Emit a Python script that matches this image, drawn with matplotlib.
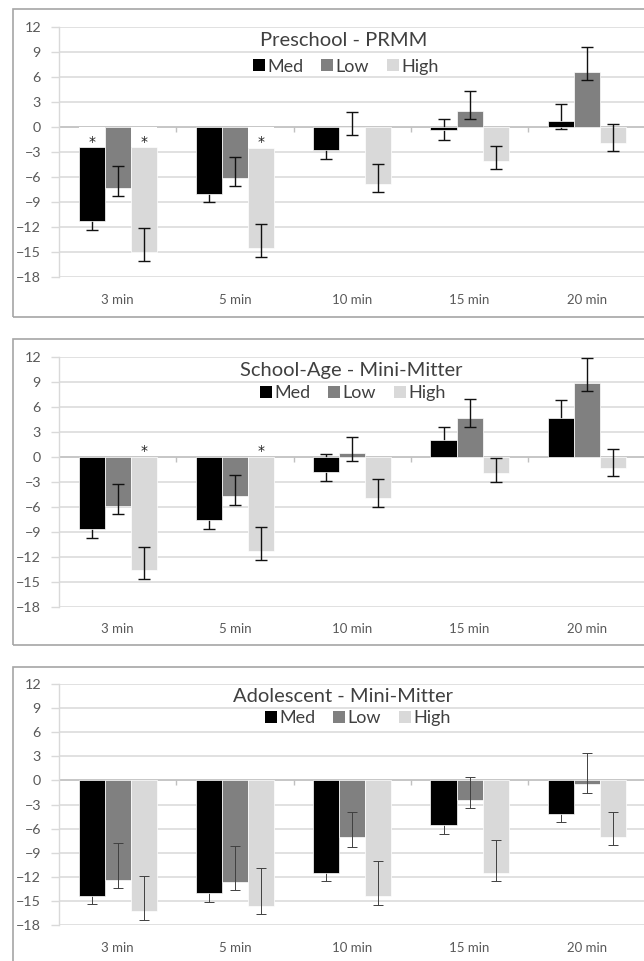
import numpy as np
import matplotlib
matplotlib.use("Agg")
import matplotlib.pyplot as plt
from matplotlib.patches import Patch, Rectangle

plt.rcParams["font.family"] = ["Lato", "DejaVu Sans"]

categories = ["3 min", "5 min", "10 min", "15 min", "20 min"]
series_names = ["Med", "Low", "High"]
series_colors = ["#000000", "#808080", "#d9d9d9"]

# Preschool - PRMM
pre_med = [-11.3, -8.0, -2.8, -0.4, 0.7]
pre_low = [-7.3, -6.1, 0.0, 1.9, 6.6]
pre_high = [-15.0, -14.5, -6.8, -4.1, -1.9]
# error bar ends (low end, high end)
pre_med_err = [(-12.4, -10.2), (-9.05, -6.9), (-3.87, -1.7), (-1.52, 0.92), (-0.24, 2.75)]
pre_low_err = [(-8.3, -4.7), (-7.06, -3.59), (-1.0, 1.8), (0.92, 4.35), (5.58, 9.53)]
pre_high_err = [(-16.07, -12.17), (-15.56, -11.65), (-7.86, -4.51), (-5.1, -2.31), (-2.91, 0.28)]
# white gap under the zero line holding the "*"
pre_med_gap = [2.4, 0, 0, 0, 0]
pre_high_gap = [2.4, 2.5, 0, 0, 0]

# School-Age - Mini-Mitter
sch_med = [-8.7, -7.6, -1.8, 2.0, 4.7]
sch_low = [-5.9, -4.7, 0.4, 4.6, 8.9]
sch_high = [-13.6, -11.3, -5.0, -2.0, -1.3]
sch_med_err = [(-9.8, -7.6), (-8.64, -6.6), (-2.88, 0.28), (1.0, 3.52), (3.7, 6.8)]
sch_low_err = [(-6.92, -3.28), (-5.8, -2.24), (-0.48, 2.32), (3.6, 6.88), (7.92, 11.88)]
sch_high_err = [(-14.72, -10.8), (-12.4, -8.48), (-6.0, -2.68), (-3.08, -0.12), (-2.28, 0.96)]
sch_high_star = [1.2, 1.1, None, None, None]

# Adolescent - Mini-Mitter
ado_med = [-14.4, -14.0, -11.5, -5.6, -4.2]
ado_low = [-12.4, -12.7, -7.1, -2.4, -0.5]
ado_high = [-16.3, -15.6, -14.4, -11.5, -7.0]
ado_med_err = [(-15.35, -13.3), (-15.15, -13.0), (-12.57, -10.5), (-6.68, -4.6), (-5.23, -3.2)]
ado_low_err = [(-13.4, -7.84), (-13.69, -8.22), (-8.26, -3.9), (-3.44, 0.37), (-1.62, 3.4)]
ado_high_err = [(-17.34, -11.9), (-16.6, -10.95), (-15.52, -10.0), (-12.57, -7.47), (-8.09, -3.98)]

yticks = np.arange(-18, 13, 3)

W, H = 644, 961
GRID = "#d9d9d9"
TEXT = "#595959"


def fx(px):
    return px / W


def fy(px):
    return 1 - px / H


def star(ax, x, y):
    # baseline placed so the glyph sits centred on y
    ax.text(x, y - 0.95, "*", ha="center", va="baseline", fontsize=10,
            family="DejaVu Sans", color="#222222", zorder=5)


def draw_panel(fig, box, border, title, title_xy, legend_xy, values, errs,
               gaps=None, stars=None, thin=False):
    top, bottom = box
    ax = fig.add_axes([fx(59), fy(bottom), fx(645.5) - fx(59), (bottom - top) / H])

    # panel frame
    fig.patches.append(Rectangle((fx(12.7), fy(border[1])), 1.2, (border[1] - border[0]) / H,
                                 transform=fig.transFigure, fill=False,
                                 edgecolor="#a6a6a6", linewidth=1.2, zorder=0))

    x = np.arange(len(categories))
    width = 0.222
    offsets = [-width, 0, width]
    if gaps is None:
        gaps = [None, None, None]

    for i, (vals, err, off, color, gap) in enumerate(zip(values, errs, offsets, series_colors, gaps)):
        vals = np.array(vals)
        g = np.zeros(len(vals)) if gap is None else np.array(gap)
        ax.bar(x + off, vals + g, bottom=-g, width=width, color=color,
               edgecolor="white", linewidth=0.5, zorder=2)
        if gap is not None:
            ax.bar(x + off, -g, width=width, color="white", linewidth=0, zorder=2.2)
            for xi, gi in zip(x + off, g):
                if gi > 0:
                    star(ax, xi, -gi * 0.55)
        lo = np.array([e[0] for e in err])
        hi = np.array([e[1] for e in err])
        # the Med whiskers sit behind their black bars
        z = 1.9 if i == 0 else 3
        if thin:
            ax.errorbar(x + off, vals, yerr=[vals - lo, hi - vals], fmt="none",
                        ecolor="#404040", elinewidth=0.7, capsize=3.5, capthick=0.7, zorder=z)
        else:
            ax.errorbar(x + off, vals, yerr=[vals - lo, hi - vals], fmt="none",
                        ecolor="#111111", elinewidth=1.0, capsize=4, capthick=1.0, zorder=z)

    if stars is not None:
        for xi, sy in zip(x + width, stars):
            if sy is not None:
                star(ax, xi, sy)

    # zero axis line with category boundary ticks
    ax.axhline(0, color="#c0c0c0", linewidth=1.1, zorder=1.5)
    bounds = np.arange(0.5, len(categories) - 1, 1.0)
    ax.vlines(bounds, -0.6, 0, color="#c0c0c0", linewidth=1.0, zorder=1.5)

    ax.set_xlim(-0.5, len(categories) - 0.5)
    ax.set_ylim(-18, 12)
    ax.set_yticks(yticks)
    ax.set_xticks(x)
    ax.set_xticklabels(categories)
    ax.tick_params(axis="x", length=0, pad=12, labelsize=9.5, labelcolor=TEXT)
    ax.tick_params(axis="y", length=6, width=1.0, color=GRID, pad=7,
                   labelsize=10.3, labelcolor=TEXT)

    ax.grid(axis="y", color=GRID, linewidth=1.1)
    ax.set_axisbelow(True)
    for s in ["top", "right", "bottom"]:
        ax.spines[s].set_visible(False)
    ax.spines["left"].set_color(GRID)
    ax.spines["left"].set_linewidth(1.0)

    fig.text(fx(title_xy[0]), fy(title_xy[1]), title, ha="center", va="center",
             fontsize=14.5, color="#404040")
    handles = [Patch(facecolor=c, edgecolor="none", label=n)
               for n, c in zip(series_names, series_colors)]
    ax.legend(handles=handles, loc="center", ncol=3, frameon=False,
              bbox_to_anchor=(fx(legend_xy[0]), fy(legend_xy[1])),
              bbox_transform=fig.transFigure, fontsize=13, labelcolor="#404040",
              handlelength=0.65, handleheight=0.65, handletextpad=0.15,
              columnspacing=1.0, borderpad=0, borderaxespad=0)
    return ax


fig = plt.figure(figsize=(W / 100, H / 100), dpi=100)

draw_panel(fig, (26.7, 277), (9, 316.7), "Preschool - PRMM", (344, 40.7), (346, 66.7),
           [pre_med, pre_low, pre_high], [pre_med_err, pre_low_err, pre_high_err],
           gaps=[pre_med_gap, None, pre_high_gap])

draw_panel(fig, (356.7, 606.7), (339.3, 645), "School-Age - Mini-Mitter",
           (351.5, 370.7), (353, 393.3),
           [sch_med, sch_low, sch_high], [sch_med_err, sch_low_err, sch_high_err],
           stars=sch_high_star)

draw_panel(fig, (684, 925), (666.7, 985), "Adolescent - Mini-Mitter",
           (343, 696.7), (358, 718.3),
           [ado_med, ado_low, ado_high], [ado_med_err, ado_low_err, ado_high_err],
           thin=True)

fig.savefig("out.png", dpi=100, facecolor="white")
